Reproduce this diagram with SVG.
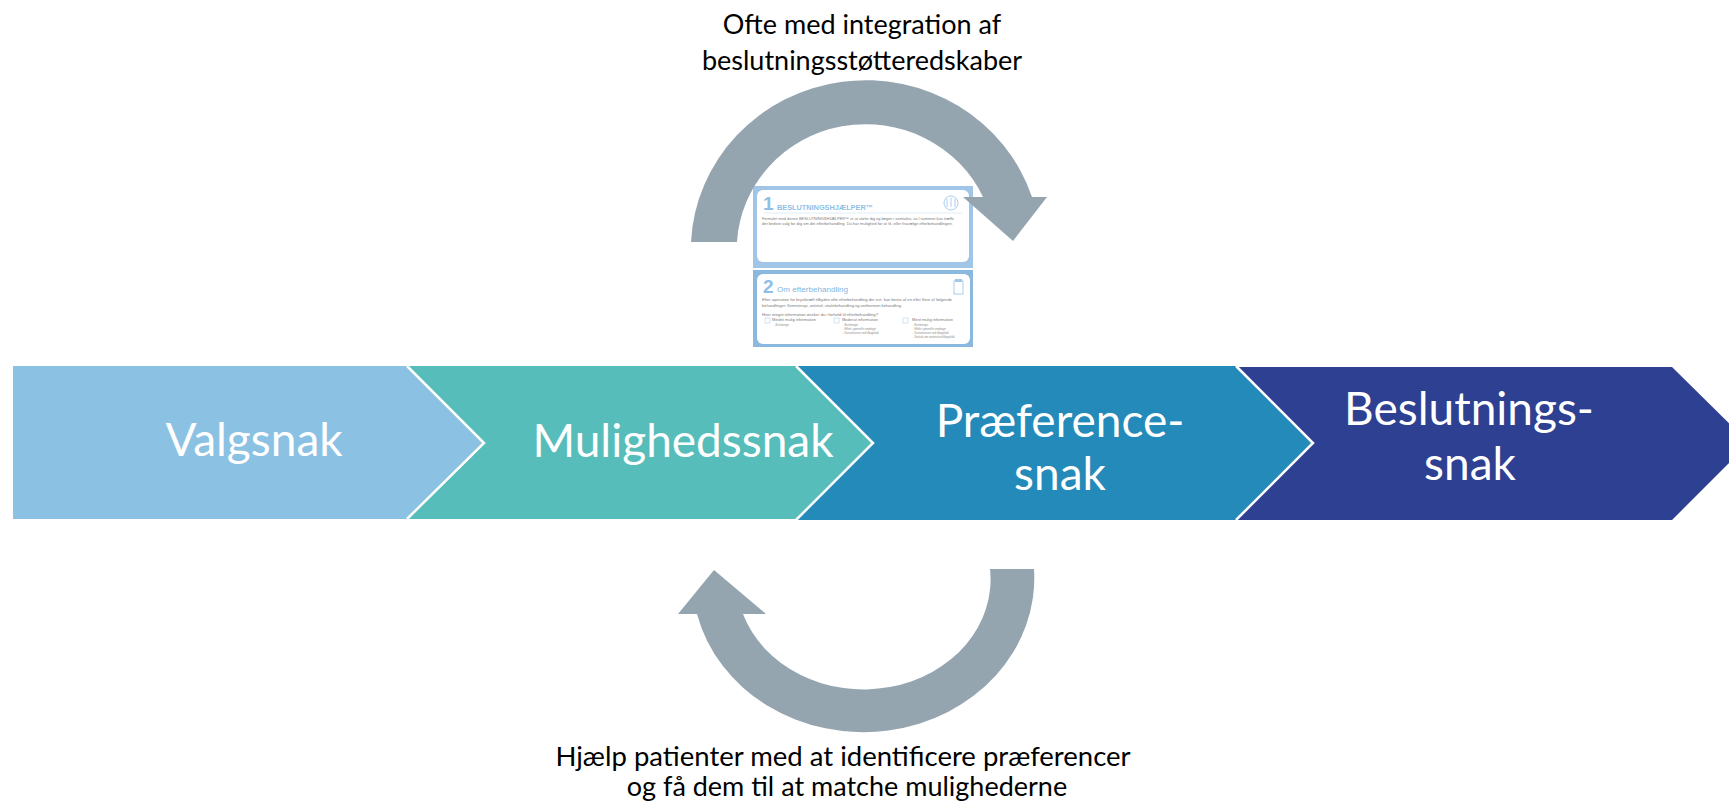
<svg xmlns="http://www.w3.org/2000/svg" width="1729" height="805" viewBox="0 0 1729 805">
<style>
.sep{fill:none;stroke:#fff;stroke-width:2.5}
.lbl{font-family:Lato,"Open Sans",sans-serif;font-size:46px;fill:#fff;text-anchor:middle}
.cap{font-family:Lato,"Open Sans",sans-serif;font-size:27px;fill:#000;text-anchor:middle}
.arrow{fill:#95A5B0}
.frame1{fill:#A0C5E7}
.frame2{fill:#8BB8DE}
.inner{fill:#fff}
.num{font-family:"Liberation Sans",Arial,sans-serif;font-weight:bold;font-size:19px;fill:#8FBFE6}
.head{font-family:"Liberation Sans",Arial,sans-serif;font-weight:bold;font-size:7px;fill:#8FBFE6}
.head2{font-family:"Liberation Sans",Arial,sans-serif;font-size:8px;fill:#82B5E0}
.tiny{font-family:"Liberation Sans",Arial,sans-serif;font-size:3.6px;fill:#7a7a7a}
.tiny2{font-family:"Liberation Sans",Arial,sans-serif;font-size:2.6px;fill:#8a8a8a}
.box{fill:#fff;stroke:#B3D1EC;stroke-width:0.6}
.ico{fill:none;stroke:#A3C7E8;stroke-width:0.9}
</style>
<rect width="1729" height="805" fill="#fff"/>

<g id="node-valgsnak">
<polygon points="13,366 407,366 484,443 407,519 13,519" fill="#8BC1E3"/>
<text class="lbl" x="254" y="456">Valgsnak</text>
</g>
<g id="node-mulighedssnak">
<polygon points="407,366 796,366 873,443 796,519 407,519 484,443" fill="#56BDBA"/>
<polyline class="sep" points="407,366 484,443 407,519"/>
<text class="lbl" x="683" y="457">Mulighedssnak</text>
</g>
<g id="node-praeferencesnak">
<polygon points="796,366 1236,366 1313,443 1236,520 796,520 873,443" fill="#248AB9"/>
<polyline class="sep" points="796,366 873,443 796,520"/>
<text class="lbl" x="1060" y="437">Præference-</text>
<text class="lbl" x="1060" y="490">snak</text>
</g>
<g id="node-beslutningssnak">
<polygon points="1236,367 1672,367 1749,443 1672,520 1236,520 1313,443" fill="#2E4091"/>
<polyline class="sep" points="1236,366 1313,443 1236,520"/>
<text class="lbl" x="1469" y="425">Beslutnings-</text>
<text class="lbl" x="1470" y="480">snak</text>
</g>

<g id="decision-aid-card">
<rect class="frame1" x="753" y="186" width="220" height="82"/>
<rect class="inner" x="757" y="190" width="212" height="72" rx="6"/>
<text class="num" x="763" y="210">1</text>
<text class="head" x="777" y="210" textLength="96" lengthAdjust="spacingAndGlyphs">BESLUTNINGSHJÆLPER™</text>
<line x1="763" y1="213" x2="963" y2="213" stroke="#CFE2F3" stroke-width="0.6"/>
<circle class="ico" cx="951" cy="203" r="7"/>
<path class="ico" d="M947 199v8M951 198v9M955 199v8"/>
<text class="tiny" x="762" y="219.5" textLength="192" lengthAdjust="spacingAndGlyphs">Formålet med denne BESLUTNINGSHJÆLPER™ er at støtte dig og lægen i samtalen, så I sammen kan træffe</text>
<text class="tiny" x="762" y="225" textLength="191" lengthAdjust="spacingAndGlyphs">det bedste valg for dig om din efterbehandling. Du har mulighed for at til- eller fravælge efterbehandlingen.</text>

<rect class="frame2" x="753" y="270" width="220" height="77"/>
<rect class="inner" x="757" y="274" width="213" height="70" rx="6"/>
<text class="num" x="763" y="293">2</text>
<text class="head2" x="777" y="292" textLength="71" lengthAdjust="spacingAndGlyphs">Om efterbehandling</text>
<rect class="ico" x="954" y="281" width="9" height="13"/>
<rect x="955" y="279" width="7" height="3" fill="#A3C7E8"/>
<text class="tiny" x="762" y="300.5" textLength="190" lengthAdjust="spacingAndGlyphs">Efter operation for brystkræft tilbydes ofte efterbehandling der evt. kan bestå af en eller flere af følgende</text>
<text class="tiny" x="762" y="307" textLength="140" lengthAdjust="spacingAndGlyphs">behandlinger: Kemoterapi, antistof, strålebehandling og antihormon behandling.</text>
<text class="tiny" x="762" y="316" textLength="116" lengthAdjust="spacingAndGlyphs">Hvor meget information ønsker du i forhold til efterbehandling?</text>
<rect class="box" x="765" y="318" width="5" height="5"/>
<text class="tiny" x="772" y="321" textLength="44" lengthAdjust="spacingAndGlyphs">Mindst mulig information</text>
<text class="tiny2" x="774" y="325.5">- Bivirkninger</text>
<rect class="box" x="834" y="318" width="5" height="5"/>
<text class="tiny" x="842" y="321" textLength="36" lengthAdjust="spacingAndGlyphs">Moderat information</text>
<text class="tiny2" x="843" y="325.5">- Bivirkninger</text>
<text class="tiny2" x="843" y="329.5">- Effekt i generelle vendinger</text>
<text class="tiny2" x="843" y="333.5">- Konsekvenser ved tilbagefald</text>
<rect class="box" x="903" y="318" width="5" height="5"/>
<text class="tiny" x="912" y="321" textLength="41" lengthAdjust="spacingAndGlyphs">Mest mulig information</text>
<text class="tiny2" x="913" y="325.5">- Bivirkninger</text>
<text class="tiny2" x="913" y="329.5">- Effekt i generelle vendinger</text>
<text class="tiny2" x="913" y="333.5">- Konsekvenser ved tilbagefald</text>
<text class="tiny2" x="913" y="337.5">- Statistik om overlevelse/tilbagefald</text>
</g>

<g id="connectors">
<path id="arrow-top" class="arrow" d="M691 242 A175 170 0 0 1 1032 197 L1047 197 L1013 241 L963 197 L983 197 A129 125 0 0 0 737 242 Z"/>
<path id="arrow-bottom" class="arrow" d="M1034 569 A171 154 0 0 1 697 614 L678 614 L714 570 L766 614 L743 614 A127 110 0 0 0 990 569 Z"/>
</g>

<g id="label-top">
<text class="cap" x="862" y="34">Ofte med integration af</text>
<text class="cap" x="862" y="70">beslutningsstøtteredskaber</text>
</g>
<g id="label-bottom">
<text class="cap" x="843" y="766" style="font-size:27.5px">Hjælp patienter med at identificere præferencer</text>
<text class="cap" x="847" y="796">og få dem til at matche mulighederne</text>
</g>
</svg>
